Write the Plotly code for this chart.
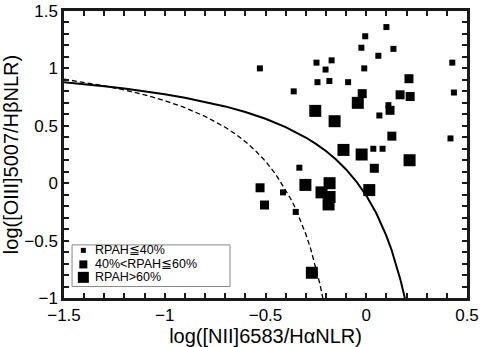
import plotly.graph_objects as go

# RPAH <= 40%
small_x = [0.10, -0.005, -0.024, 0.135, 0.06, -0.247, -0.172, -0.202, -0.01, 0.427,
           -0.242, -0.183, -0.09, 0.435, 0.11, 0.065, 0.418, -0.36, -0.528, 0.035,
           0.081, -0.332, -0.413, -0.35]
small_y = [1.36, 1.28, 1.18, 1.17, 1.11, 1.05, 1.07, 0.99, 1.00, 1.05,
           0.88, 0.89, 0.88, 0.79, 0.68, 0.59, 0.39, 0.80, 1.00, 0.30,
           0.30, 0.135, -0.08, -0.25]
# 40% < RPAH <= 60%
mid_x = [0.212, -0.02, 0.168, 0.218, 0.118, 0.127, 0.04, -0.527, -0.505]
mid_y = [0.91, 0.78, 0.77, 0.755, 0.635, 0.41, 0.13, -0.04, -0.19]
# RPAH > 60%
big_x = [-0.042, -0.253, -0.157, -0.113, -0.023, 0.215, 0.015, -0.302, -0.182,
         -0.222, -0.182, -0.187, -0.27]
big_y = [0.70, 0.63, 0.54, 0.29, 0.25, 0.20, -0.06, -0.015, 0.0,
         -0.08, -0.12, -0.185, -0.78]

# demarcation curves
solid_x = [-1.5, -1.4, -1.3, -1.2, -1.1, -1.0, -0.9, -0.8, -0.7, -0.6, -0.5, -0.4, -0.3,
           -0.25, -0.2, -0.15, -0.1, -0.05, 0.0, 0.05, 0.1, 0.125, 0.15, 0.17, 0.19, 0.195]
solid_y = [0.880, 0.864, 0.845, 0.825, 0.801, 0.775, 0.745, 0.710, 0.669, 0.620, 0.561,
           0.489, 0.398, 0.343, 0.280, 0.206, 0.120, 0.017, -0.108, -0.262, -0.459,
           -0.578, -0.716, -0.843, -0.989, -1.028]
dash_x = [-1.5, -1.4, -1.3, -1.2, -1.1, -1.0, -0.9, -0.8, -0.7, -0.65, -0.6, -0.55, -0.5,
          -0.45, -0.4, -0.375, -0.35, -0.325, -0.3, -0.275, -0.25, -0.23, -0.21]
dash_y = [0.906, 0.879, 0.848, 0.812, 0.770, 0.719, 0.658, 0.582, 0.487, 0.429, 0.362,
          0.283, 0.191, 0.080, -0.056, -0.135, -0.225, -0.327, -0.443, -0.577, -0.733,
          -0.879, -1.046]

# ticks every 0.1, labelled every 0.5
x_tickvals = [round(-1.5 + 0.1 * i, 1) for i in range(21)]
x_ticktext = ['−1.5', '', '', '', '', '−1', '', '', '', '', '−0.5', '', '', '', '', '0',
              '', '', '', '', '0.5']
y_tickvals = [round(-1.0 + 0.1 * i, 1) for i in range(26)]
y_ticktext = ['−1', '', '', '', '', '−0.5', '', '', '', '', '0', '', '', '', '', '0.5',
              '', '', '', '', '1', '', '', '', '', '1.5']

legend_labels = ['RPAH≦40%', '40%<RPAH≦60%', 'RPAH>60%']
FONT = 'Liberation Sans'
INK = 'black'
FRAME = '#1a1a1a'

fig = go.Figure()
fig.add_trace(go.Scatter(x=solid_x, y=solid_y, mode='lines', showlegend=False,
                         line=dict(color=INK, width=2)))
fig.add_trace(go.Scatter(x=dash_x, y=dash_y, mode='lines', showlegend=False,
                         line=dict(color=INK, width=1.3, dash='5px,3px')))
for xs, ys, sz in [(small_x, small_y, 6), (mid_x, mid_y, 9), (big_x, big_y, 12)]:
    fig.add_trace(go.Scatter(x=xs, y=ys, mode='markers', showlegend=False,
                             marker=dict(symbol='square', size=sz, color=INK, line_width=0)))

# hand-drawn legend box (plot area is 403 x 287 px)
fig.add_shape(type='rect', xref='paper', yref='paper', x0=0.02, x1=0.412, y0=0.04, y1=0.185,
              line=dict(color='#888888', width=1), fillcolor='white', layer='below')
for yy, sz, lab in zip([0.166, 0.117, 0.072], [5, 8, 11], legend_labels):
    fig.add_shape(type='rect', xref='paper', yref='paper', xsizemode='pixel', ysizemode='pixel',
                  xanchor=0.048, yanchor=yy, x0=-sz / 2, x1=sz / 2, y0=-sz / 2, y1=sz / 2,
                  fillcolor=INK, line_width=0)
    fig.add_annotation(x=0.075, y=yy, xref='paper', yref='paper', text=lab, showarrow=False,
                       xanchor='left', yanchor='middle', borderpad=0,
                       font=dict(size=12.5, color=INK, family=FONT))

axis_common = dict(showline=True, linecolor=FRAME, linewidth=2.5, mirror='allticks',
                   ticks='inside', ticklen=5, tickcolor=FRAME, tickwidth=2,
                   showgrid=False, zeroline=False, automargin=False)
fig.update_xaxes(range=[-1.5, 0.5], tickmode='array', tickvals=x_tickvals, ticktext=x_ticktext,
                 title_text='log([NII]6583/HαNLR)', title_standoff=2, **axis_common)
fig.update_yaxes(range=[-1, 1.5], tickmode='array', tickvals=y_tickvals, ticktext=y_ticktext,
                 title_text='log([OIII]5007/HβNLR)', **axis_common)

fig.update_layout(width=485, height=347, margin=dict(l=64, r=18, t=11, b=49),
                  plot_bgcolor='white', paper_bgcolor='white',
                  font=dict(family=FONT, size=17, color=INK))
fig.write_html("out.html", config={'displayModeBar': False},
               post_script="document.body.style.margin='0';")
